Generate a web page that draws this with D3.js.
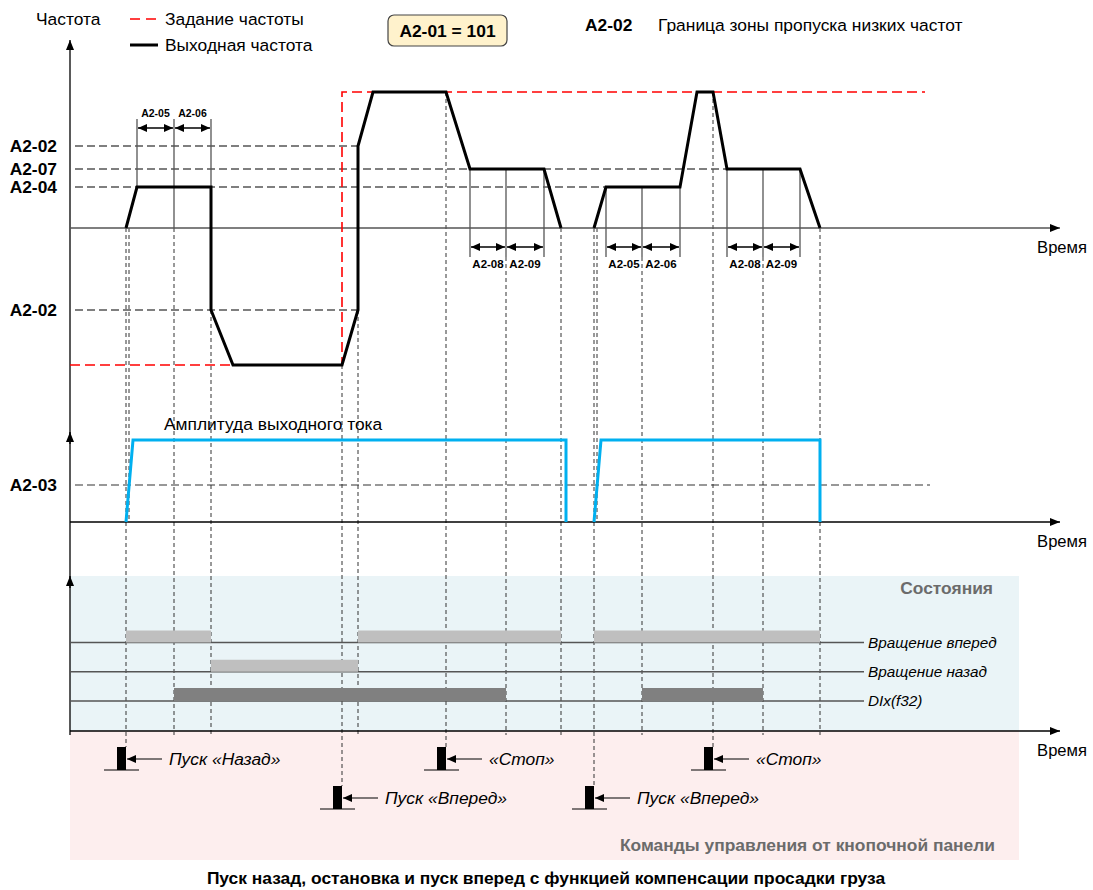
<!DOCTYPE html>
<html>
<head>
<meta charset="utf-8">
<title>Пуск назад, остановка и пуск вперед</title>
<script src="https://d3js.org/d3.v7.min.js"></script>
<style>
 body { margin: 0; background: #fff; }
 text { font-family: "Liberation Sans", Arial, sans-serif; }
</style>
</head>
<body>
<script>
var w = 1093, h = 890;
var fs = 17.4; // main text size

// --- data (time in s, frequency in Hz, current in A) ---
// frequency setpoint (red dashed)
var setTimes = [0, 27.2, 27.2, 85.5];
var setFreq = [-13.7, -13.7, 13.6, 13.6];
// output frequency (black), two runs
var outTimes1 = [5.6, 6.7, 14.1, 14.1, 16.3, 27.2, 28.8, 28.8, 30.3, 37.6, 40.0, 47.4, 49.1];
var outFreq1 = [0, 4.1, 4.1, -8.2, -13.7, -13.7, -8.2, 8.2, 13.6, 13.6, 5.9, 5.9, 0];
var outTimes2 = [52.4, 53.6, 61.0, 62.7, 64.3, 65.7, 73.0, 75.0];
var outFreq2 = [0, 4.1, 4.1, 13.6, 13.6, 5.9, 5.9, 0];
// output current amplitude (blue)
var curTimes1 = [5.6, 6.3, 49.6, 49.6];
var curTimes2 = [52.4, 53.1, 75.0, 75.0];
var curValues = [0, 8.2, 8.2, 0];
// parameter levels
var levelNames = ["A2-02", "A2-07", "A2-04", "A2-02"];
var levelFreq = [8.2, 5.9, 4.1, -8.2];
var levelEnd = [28.8, 65.7, 53.6, 28.8];
var a203Level = 3.7, a203End = 86.0;
// time intervals
var dimTimes = [[6.7, 10.4, 14.1], [40.0, 43.6, 47.4], [53.6, 57.2, 61.0], [65.7, 69.3, 73.0]];
var dimLabels = [["A2-05", "A2-06"], ["A2-08", "A2-09"], ["A2-05", "A2-06"], ["A2-08", "A2-09"]];
var dimFreq = [4.1, 5.9, 4.1, 5.9];
var dimSide = ["top", "bottom", "bottom", "bottom"];
// vertical guide lines
var guideTimes = [5.6, 5.9, 10.4, 14.1, 27.2, 28.8, 37.6, 43.6, 49.1, 52.4, 52.7, 57.2, 64.3, 69.3, 75.0];
var guideFrom = [0, 0, 0, -8.2, -13.7, -8.2, 13.6, -2.9, 0, 0, 0, -2.9, 13.6, -2.9, 0];
var guideTo = ["btn", "cur", "st", "st", "btn", "st", "btn", "st", "st", "btn", "cur", "st", "btn", "st", "st"];
// states
var stateRows = ["Вращение вперед", "Вращение назад", "DIx(f32)"];
var fwdBars = [[5.6, 14.1], [28.8, 49.1], [52.4, 75.0]];
var revBars = [[14.1, 28.8]];
var dixBars = [[10.4, 43.6], [57.2, 69.3]];
// keypad commands
var cmdTimes = [5.6, 27.2, 37.6, 52.4, 64.3];
var cmdRow = [0, 1, 0, 1, 0];
var cmdLabels = ["Пуск «Назад»", "Пуск «Вперед»", "«Стоп»", "Пуск «Вперед»", "«Стоп»"];

// --- scales ---
var x = d3.scaleLinear().domain([0, 99]).range([70, 1060]);
var yF = d3.scaleLinear().domain([-14, 14]).range([368, 88]);
var yI = d3.scaleLinear().domain([0, 10]).range([522, 422]);
var yS = d3.scalePoint().domain(stateRows).range([642.5, 701]);
var yC = d3.scalePoint().domain([0, 1]).range([770, 809]);
var statTop = 576, statBot = 731, cmdBot = 860, panelRight = 1019;

var svg = d3.select("body").append("svg").attr("width", w).attr("height", h);

var defs = svg.append("defs");
defs.append("marker").attr("id", "ax").attr("viewBox", "0 0 10 8")
    .attr("refX", 10).attr("refY", 4).attr("markerWidth", 10).attr("markerHeight", 8)
    .attr("markerUnits", "userSpaceOnUse").attr("orient", "auto")
    .append("path").attr("d", "M0,0L10,4L0,8Z").attr("fill", "#000");
defs.append("marker").attr("id", "dim").attr("viewBox", "0 0 9 8")
    .attr("refX", 9).attr("refY", 4).attr("markerWidth", 9).attr("markerHeight", 8)
    .attr("markerUnits", "userSpaceOnUse").attr("orient", "auto-start-reverse")
    .append("path").attr("d", "M0,0L9,4L0,8Z").attr("fill", "#000");

// panels
svg.append("rect").attr("x", x(0)).attr("y", statTop).attr("width", panelRight - x(0))
   .attr("height", statBot - statTop).attr("fill", "#eaf4f7");
svg.append("rect").attr("x", x(0)).attr("y", statBot).attr("width", panelRight - x(0))
   .attr("height", cmdBot - statBot).attr("fill", "#fdeeee");
svg.append("text").attr("x", 993).attr("y", 594).attr("text-anchor", "end")
   .attr("font-size", fs).attr("font-weight", "bold").attr("fill", "#6b6b6b").text("Состояния");
svg.append("text").attr("x", 995).attr("y", 851).attr("text-anchor", "end")
   .attr("font-size", fs).attr("font-weight", "bold").attr("fill", "#6b6b6b")
   .text("Команды управления от кнопочной панели");

// guide lines
guideTimes.forEach(function(t, i) {
  var y1 = yF(guideFrom[i]);
  var y2 = guideTo[i] === "cur" ? yI(0) : guideTo[i] === "st" ? statBot + 4 : null;
  if (y2 === null) {
    var k = cmdTimes.indexOf(t);
    y2 = yC(cmdRow[k]) - 23;
  }
  svg.append("line").attr("x1", x(t)).attr("x2", x(t)).attr("y1", y1).attr("y2", y2)
     .attr("stroke", "#333").attr("stroke-width", 1).attr("stroke-dasharray", "4,3");
});

// level dashed lines
levelNames.forEach(function(n, i) {
  svg.append("line").attr("x1", x(0) + 5).attr("x2", x(levelEnd[i]))
     .attr("y1", yF(levelFreq[i])).attr("y2", yF(levelFreq[i]))
     .attr("stroke", "#555").attr("stroke-width", 1.3).attr("stroke-dasharray", "8,4");
  svg.append("text").attr("x", 57).attr("y", yF(levelFreq[i])).attr("dy", "0.36em")
     .attr("text-anchor", "end").attr("font-size", fs).attr("font-weight", "bold").text(n);
});
svg.append("line").attr("x1", x(0) + 5).attr("x2", x(a203End))
   .attr("y1", yI(a203Level)).attr("y2", yI(a203Level))
   .attr("stroke", "#333").attr("stroke-width", 1.2).attr("stroke-dasharray", "8,4");
svg.append("text").attr("x", 57).attr("y", yI(a203Level)).attr("dy", "0.36em")
   .attr("text-anchor", "end").attr("font-size", fs).attr("font-weight", "bold").text("A2-03");

// axes
svg.append("line").attr("x1", x(0)).attr("x2", x(0)).attr("y1", statBot + 4).attr("y2", yF(18.8))
   .attr("stroke", "#000").attr("stroke-width", 1.3).attr("marker-end", "url(#ax)");
[yI(9), statTop].forEach(function(y0) {
  svg.append("line").attr("x1", x(0)).attr("x2", x(0)).attr("y1", y0 + 12).attr("y2", y0)
     .attr("stroke", "#000").attr("stroke-width", 1.3).attr("marker-end", "url(#ax)");
});
[[yF(0), "#555"], [yI(0), "#000"], [statBot, "#000"]].forEach(function(a) {
  svg.append("line").attr("x1", x(0)).attr("x2", x(99)).attr("y1", a[0]).attr("y2", a[0])
     .attr("stroke", a[1]).attr("stroke-width", 1.3).attr("marker-end", "url(#ax)");
  svg.append("text").attr("x", 1087).attr("y", a[0] + 25).attr("text-anchor", "end")
     .attr("font-size", 16.6).text("Время");
});

// dimension marks
dimTimes.forEach(function(ts, i) {
  var top = dimSide[i] === "top";
  var ext = top ? 10.9 : -2.9, arr = top ? 10.0 : -1.9, lab = top ? 11.15 : -3.95;
  ts.forEach(function(t, j) {
    var end = top && j === 1 ? 0 : dimFreq[i];
    svg.append("line").attr("x1", x(t)).attr("x2", x(t)).attr("y1", yF(ext)).attr("y2", yF(end))
       .attr("stroke", "#555").attr("stroke-width", 1.3);
  });
  for (var j = 0; j < 2; j++) {
    svg.append("line").attr("x1", x(ts[j]) + 1).attr("x2", x(ts[j + 1]) - 1)
       .attr("y1", yF(arr)).attr("y2", yF(arr)).attr("stroke", "#000").attr("stroke-width", 1.3)
       .attr("marker-start", "url(#dim)").attr("marker-end", "url(#dim)");
    svg.append("text").attr("x", (x(ts[j]) + x(ts[j + 1])) / 2).attr("y", yF(lab))
       .attr("text-anchor", "middle").attr("font-size", top ? 10.5 : 11.5).attr("font-weight", "bold")
       .text(dimLabels[i][j]);
  }
});

// series lines
var lineF = d3.line().x(function(d) { return x(d[0]); }).y(function(d) { return yF(d[1]); });
var lineI = d3.line().x(function(d) { return x(d[0]); }).y(function(d) { return yI(d[1]); });
svg.append("path").attr("d", lineF(d3.zip(setTimes, setFreq))).attr("fill", "none")
   .attr("stroke", "#ff0000").attr("stroke-width", 1.6).attr("stroke-dasharray", "10,5");
[[outTimes1, outFreq1], [outTimes2, outFreq2]].forEach(function(s) {
  svg.append("path").attr("d", lineF(d3.zip(s[0], s[1]))).attr("fill", "none")
     .attr("stroke", "#000").attr("stroke-width", 3).attr("stroke-linejoin", "miter");
});
[curTimes1, curTimes2].forEach(function(ts) {
  svg.append("path").attr("d", lineI(d3.zip(ts, curValues))).attr("fill", "none")
     .attr("stroke", "#00b0f0").attr("stroke-width", 3);
});
svg.append("text").attr("x", 164).attr("y", 430).attr("font-size", fs).text("Амплитуда выходного тока");

// states
stateRows.forEach(function(r) {
  svg.append("line").attr("x1", x(0)).attr("x2", 864).attr("y1", yS(r)).attr("y2", yS(r))
     .attr("stroke", "#555").attr("stroke-width", 1.5);
  svg.append("text").attr("x", 868).attr("y", yS(r)).attr("dy", "0.35em")
     .attr("font-size", 15.3).attr("font-style", "italic").text(r);
});
[[fwdBars, stateRows[0], "#bfbfbf", 12], [revBars, stateRows[1], "#bfbfbf", 12],
 [dixBars, stateRows[2], "#808080", 13]].forEach(function(b) {
  svg.selectAll(null).data(b[0]).enter().append("rect")
     .attr("x", function(d) { return x(d[0]); })
     .attr("width", function(d) { return x(d[1]) - x(d[0]); })
     .attr("y", yS(b[1]) - b[3]).attr("height", b[3]).attr("fill", b[2]);
});

// keypad commands
cmdTimes.forEach(function(t, i) {
  var cx = x(t), by = yC(cmdRow[i]);
  svg.append("line").attr("x1", cx - 22).attr("x2", cx + 13).attr("y1", by).attr("y2", by)
     .attr("stroke", "#000").attr("stroke-width", 1);
  svg.append("rect").attr("x", cx - 9).attr("y", by - 23).attr("width", 9).attr("height", 23)
     .attr("fill", "#000");
  svg.append("line").attr("x1", cx + 36).attr("x2", cx + 1).attr("y1", by - 11).attr("y2", by - 11)
     .attr("stroke", "#000").attr("stroke-width", 1.2).attr("marker-end", "url(#dim)");
  svg.append("text").attr("x", cx + 43).attr("y", by - 11).attr("dy", "0.36em")
     .attr("font-size", fs).attr("font-style", "italic").text(cmdLabels[i]);
});

// header and legend
svg.append("text").attr("x", 36).attr("y", 25).attr("font-size", fs).text("Частота");
svg.append("line").attr("x1", 130).attr("x2", 158).attr("y1", 19).attr("y2", 19)
   .attr("stroke", "#ff0000").attr("stroke-width", 1.6).attr("stroke-dasharray", "10,6");
svg.append("text").attr("x", 165).attr("y", 25).attr("font-size", fs).text("Задание частоты");
svg.append("line").attr("x1", 130).attr("x2", 158).attr("y1", 45).attr("y2", 45)
   .attr("stroke", "#000").attr("stroke-width", 3);
svg.append("text").attr("x", 165).attr("y", 51).attr("font-size", fs).text("Выходная частота");
svg.append("rect").attr("x", 388).attr("y", 15).attr("width", 119).attr("height", 31).attr("rx", 6)
   .attr("fill", "#fff2cc").attr("stroke", "#444").attr("stroke-width", 1.2);
svg.append("text").attr("x", 447.5).attr("y", 36.5).attr("text-anchor", "middle")
   .attr("font-size", fs).attr("font-weight", "bold").text("A2-01 = 101");
svg.append("text").attr("x", 585).attr("y", 31).attr("font-size", fs).attr("font-weight", "bold").text("A2-02");
svg.append("text").attr("x", 658).attr("y", 31).attr("font-size", fs).text("Граница зоны пропуска низких частот");
svg.append("text").attr("x", 546).attr("y", 884).attr("text-anchor", "middle")
   .attr("font-size", fs).attr("font-weight", "bold")
   .text("Пуск назад, остановка и пуск вперед с функцией компенсации просадки груза");
</script>
</body>
</html>
